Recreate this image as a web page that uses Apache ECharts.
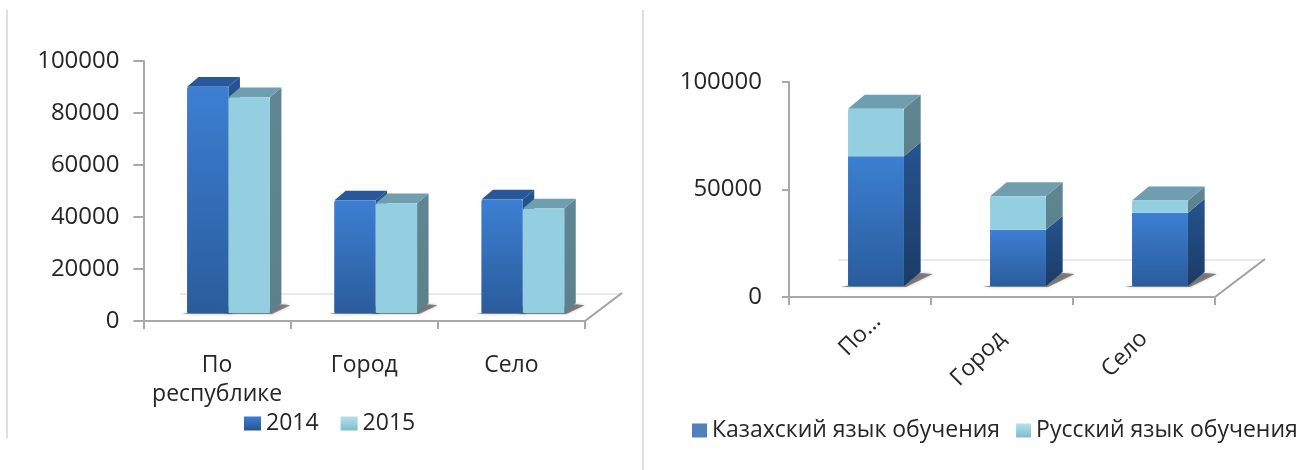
<!DOCTYPE html>
<html><head><meta charset="utf-8">
<style>html,body{margin:0;padding:0;background:#fff}#c{width:1300px;height:470px;filter:blur(0.5px)}</style>
<script src="https://cdn.jsdelivr.net/npm/echarts@6/dist/echarts.min.js"></script>
</head><body><div id="c"></div>
<script>
const categoriesLeft = ['По\nреспублике', 'Город', 'Село'];
const categoriesRight = ['По...', 'Город', 'Село'];
const values2014 = [87000, 43300, 43700];
const values2015 = [83000, 42200, 40200];
const kazakh = [60300, 26200, 34100];
const russian = [22200, 15600, 5700];
const ticksLeft = [0, 20000, 40000, 60000, 80000, 100000];
const ticksRight = [0, 50000, 100000];

const FONT = '"Open Sans", sans-serif';
const BLUE = {front:['#3c7fd3','#2a5c9c'], side:['#25548f','#1c3b66'], top:'#28589a'};
const AQUA = {front:['#93cfe0','#93cfe0'], side:['#5f8692','#5c818c'], top:'#6f9eb0'};
const vgrad = (a,b)=>({type:'linear',x:0,y:0,x2:0,y2:1,colorStops:[{offset:0,color:a},{offset:1,color:b}]});

function bar3d(pal, o){
  return function(params, api){
    const cat = api.value(0), lo = api.value(1), hi = api.value(2);
    const band = api.size([1,0])[0];
    const w = band*o.ratio;
    const c = api.coord([cat, lo]), t = api.coord([cat, hi]);
    const x0 = c[0] + o.shiftX + band*o.offset - w/2, x1 = x0 + w;
    const yb = c[1] - o.shiftY, yt = t[1] - o.shiftY;
    const dx = o.dx, dy = o.dy;
    const kids = [];
    if (lo === 0) kids.push({type:'polygon',shape:{points:[[x0-o.shadow*0.6,yb+1],[x1+2,yb+1],[x1+dx+o.shadow,yb-dy+2],[x1+dx,yb-dy+1]]},
      style:{fill:'rgba(70,70,70,0.6)',shadowBlur:3,shadowColor:'rgba(70,70,70,0.6)'}});
    kids.push({type:'polygon',shape:{points:[[x1,yb],[x1+dx,yb-dy],[x1+dx,yt-dy],[x1,yt]]},style:{fill:vgrad(pal.side[0],pal.side[1])}});
    if (o.cap) kids.push({type:'polygon',shape:{points:[[x0,yt],[x0+dx,yt-dy],[x1+dx,yt-dy],[x1,yt]]},style:{fill:pal.top}});
    kids.push({type:'rect',shape:{x:x0,y:yt,width:w,height:yb-yt,r:o.cap?[2,2,1,1]:[0,0,1,1]},style:{fill:vgrad(pal.front[0],pal.front[1])}});
    return {type:'group',children:kids};
  };
}
const rowsPlain = vals => vals.map((v,i)=>[i,0,v]);
const rowsOn = (base,vals) => vals.map((v,i)=>[i,base[i],base[i]+v]);
const axisLine = {show:true,lineStyle:{color:'#a8a8a8',width:2}};

const L = {ratio:0.281,shiftX:11.4,shiftY:8,dx:11.5,dy:9.7,shadow:9};
const R = {ratio:0.394,shiftX:16,shiftY:11,dx:16.7,dy:14,offset:0,shadow:12};
function ser(name,idx,rows,pal,o){
  return {type:'custom',name,xAxisIndex:idx,yAxisIndex:idx,data:rows,
    encode:{x:0,y:[1,2]},renderItem:bar3d(pal,o),itemStyle:{color:pal.front[0]}};
}
function xAx(idx,cats,label){
  return {type:'category',gridIndex:idx,data:cats,axisLine,
    axisTick:{show:true,length:8,lineStyle:{color:'#a8a8a8',width:2}},
    axisLabel:Object.assign({color:'#262626',fontFamily:FONT,fontSize:23,interval:0},label)};
}
function yAx(idx,max,step,tick,margin){
  return {type:'value',gridIndex:idx,min:0,max,interval:step,splitLine:{show:false},axisLine,
    axisTick:{show:true,length:tick,lineStyle:{color:'#a8a8a8',width:2}},
    axisLabel:{color:'#262626',fontFamily:FONT,fontSize:24,margin,padding:[3,0,0,0],formatter:v=>String(v)}};
}
const legendText = {color:'#262626',fontFamily:FONT};
const option = {
  animation:false,backgroundColor:'#fff',
  grid:[{left:143.5,width:441.5,top:61,height:260},{left:789,width:426,top:82,height:215}],
  xAxis:[xAx(0,categoriesLeft,{margin:30,lineHeight:29}),
         xAx(1,categoriesRight.map((c,i)=>i===0?{value:c,textStyle:{align:'center'}}:c),{rotate:45,margin:38})],
  yAxis:[yAx(0,100000,20000,10,24),yAx(1,100000,50000,7,27)],
  legend:[
    {left:239,top:407,width:300,itemWidth:17,itemHeight:14,itemGap:22,icon:'rect',
     textStyle:Object.assign({fontSize:23},legendText),
     data:[{name:'2014',itemStyle:{color:vgrad('#3c7fd3','#27558f')}},{name:'2015',itemStyle:{color:vgrad('#b5e0ea','#7fbccd')}}]},
    {left:687,top:414,width:612,itemWidth:15,itemHeight:14,itemGap:16,itemTextGap:6,icon:'rect',
     textStyle:Object.assign({fontSize:23},legendText),
     data:[{name:'Казахский язык обучения',itemStyle:{color:'#4f81bd'}},{name:'Русский язык обучения',itemStyle:{color:vgrad('#b5e0ea','#7fbccd')}}]}
  ],
  graphic:[
    {type:'line',z:0,shape:{x1:7,y1:10,x2:7,y2:438},style:{stroke:'#d4d4d4',lineWidth:1.5}},
    {type:'line',z:0,shape:{x1:643,y1:10,x2:643,y2:470},style:{stroke:'#d4d4d4',lineWidth:1.5}},
    {type:'line',z:0,shape:{x1:180,y1:294,x2:622,y2:294},style:{stroke:'#e2e2e2',lineWidth:1.5}},
    {type:'line',z:0,shape:{x1:585,y1:321,x2:622,y2:293},style:{stroke:'#a0a0a0',lineWidth:2}},
    {type:'line',z:0,shape:{x1:838,y1:260,x2:1265,y2:260},style:{stroke:'#e2e2e2',lineWidth:1.5}},
    {type:'line',z:0,shape:{x1:1215,y1:297,x2:1265,y2:259},style:{stroke:'#a0a0a0',lineWidth:2}}
  ],
  series:[
    ser('2014',0,rowsPlain(values2014),BLUE,Object.assign({offset:-0.141,cap:true},L)),
    ser('2015',0,rowsPlain(values2015),AQUA,Object.assign({offset:0.141,cap:true},L)),
    ser('Казахский язык обучения',1,rowsPlain(kazakh),BLUE,Object.assign({cap:false},R)),
    ser('Русский язык обучения',1,rowsOn(kazakh,russian),AQUA,Object.assign({cap:true},R))
  ]
};
echarts.init(document.getElementById('c'),null,{renderer:'canvas'}).setOption(option);
</script></body></html>
